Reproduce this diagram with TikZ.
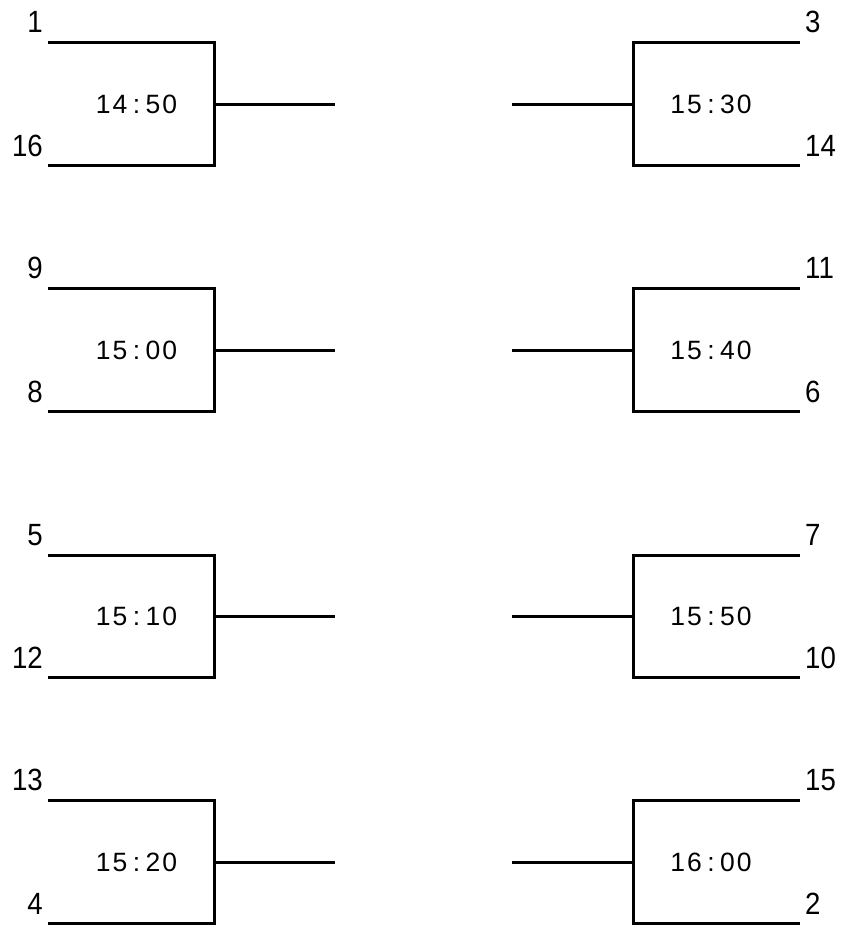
\documentclass[tikz,border=0pt]{standalone}
\usepackage{fontspec}
\setmainfont{Liberation Sans}
\def\monoA#1{\ifx#1\relax\else\makebox[16.6pt]{#1}\expandafter\monoA\fi}
\newcommand\monotxt[1]{\monoA#1\relax}
\tikzset{
  bline/.style={line width=3pt},
  lab/.style={inner sep=0pt, font=\fontsize{30.7}{32}\selectfont},
  tim/.style={inner sep=0pt, font=\fontsize{26.5}{28}\selectfont}
}
\begin{document}
\begin{tikzpicture}[x=1pt,y=-1pt]
\useasboundingbox (0,0) rectangle (843,927);
\foreach \i/\t/\b/\m/\lt/\lb/\lm/\rt/\rb/\rm in {
  1/42/165/104/1/16/14:50/3/14/15:30,
  2/288/411/350/9/8/15:00/11/6/15:40,
  3/555/677/616/5/12/15:10/7/10/15:50,
  4/800/923/862/13/4/15:20/15/2/16:00}{
  % left bracket
  \coordinate (LA\i) at (48,\t);
  \coordinate (LB\i) at (214,\t);
  \coordinate (LC\i) at (214,\b);
  \coordinate (LD\i) at (48,\b);
  \coordinate (LM\i) at (214,\m);
  \coordinate (LE\i) at (335,\m);
  \draw[bline] (LA\i) -- (LB\i) -- (LC\i) -- (LD\i);
  \draw[bline] (LM\i) -- (LE\i);
  \node[lab, anchor=base east] (LT\i) at (43,\t-10) {\scalebox{0.9}[1]{\lt}};
  \node[lab, anchor=base east] (LBl\i) at (43,\b-9) {\scalebox{0.9}[1]{\lb}};
  \node[tim] (LTm\i) at (136.5,\m) {\expandafter\monotxt\expandafter{\lm}};
  % right bracket
  \coordinate (RA\i) at (800,\t);
  \coordinate (RB\i) at (633,\t);
  \coordinate (RC\i) at (633,\b);
  \coordinate (RD\i) at (800,\b);
  \coordinate (RM\i) at (633,\m);
  \coordinate (RE\i) at (512,\m);
  \draw[bline] (RA\i) -- (RB\i) -- (RC\i) -- (RD\i);
  \draw[bline] (RM\i) -- (RE\i);
  \node[lab, anchor=base west] (RT\i) at (805,\t-10) {\scalebox{0.9}[1]{\rt}};
  \node[lab, anchor=base west] (RBl\i) at (805,\b-9) {\scalebox{0.9}[1]{\rb}};
  \node[tim] (RTm\i) at (711,\m) {\expandafter\monotxt\expandafter{\rm}};
}
\end{tikzpicture}
\end{document}
